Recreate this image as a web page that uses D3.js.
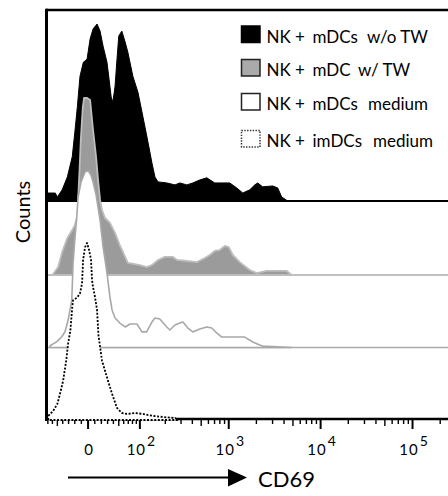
<!DOCTYPE html>
<html>
<head>
<meta charset="utf-8">
<script src="https://cdn.jsdelivr.net/npm/d3@7"></script>
<style>
  body { margin: 0; background: #fff; }
  svg { display: block; }
  text { font-family: Lato, "Open Sans", sans-serif; fill: #000; }
</style>
</head>
<body>
<svg width="448" height="496"></svg>
<script>

// DATA : [CD69 value, % of max]

var woTW = [[-72,4.5],[-54,4.5],[-50,2.3],[-41,6.3],[-32,13.6],[-24,25],[-20,38.6],[-16,53.4],[-12,70.5],[-7,78.4],[-1.5,80.1],[3,91.5],[7.4,97.2],[13.4,100],[18,96],[22.7,87.5],[29,78.4],[32.5,68.8],[36,59.1],[39,55.7],[43,64.8],[46.6,80.1],[50,93.2],[56,96],[63,89.8],[69,84.1],[81,70.5],[94.5,61.4],[109,47.7],[126,33],[140,21.6],[152,13.6],[165,10.8],[208,10.2],[257,9.1],[291,10.2],[348,9.1],[405,10.2],[483,11.9],[576,13.1],[704,10.2],[1025,10.2],[1222,7.4],[1421,4.5],[1693,6.3],[1918,9.1],[2068,10.2],[2342,8],[3009,8.5],[3410,7.4],[3770,2.3],[4378,0]];

var wTW = [[-58.5,0.6],[-48.5,4.5],[-41,13],[-32,20.9],[-24,25.4],[-20,28.2],[-16,33.3],[-14.9,42.4],[-12.9,57.6],[-10.8,76.3],[-7.8,94.9],[-5.9,100],[-1.5,100],[3,98.9],[6.9,83.6],[11.9,66.7],[14.9,53.7],[18,42.4],[21,36.7],[25.8,32.2],[34,29.4],[43,23.7],[52,16.9],[63,10.2],[69,6.8],[100,5.6],[121,4.5],[140,5.6],[165,8.5],[198,10.2],[244,10.2],[270,8.5],[348,7.9],[449,7.3],[548,9.6],[621,11.3],[704,13.6],[797,14.1],[906,16.4],[1001,15.8],[1107,11.3],[1319,7.3],[1693,2.8],[2018,1.1],[2590,2.3],[4272,2.3],[4838,0]];

var mDCsMedium = [[-65,1],[-51,3.3],[-41.7,6.1],[-36,8.9],[-30.7,15.5],[-24.7,26.8],[-22.7,47.7],[-20,60.7],[-16.9,73.7],[-14.9,85],[-10.4,93.5],[-4.4,99.2],[0,100],[4.4,97.2],[7.4,93.5],[11.9,86.2],[18,72],[22.7,56.8],[29,42.1],[34,28.5],[37.6,21.2],[43,16.7],[52,13.8],[63,11.6],[74,13.3],[91.7,13.3],[106,8.8],[121,8.8],[140,14.4],[152,16.7],[173,16.1],[208,11.6],[225,9.9],[257,12.7],[291,13.8],[315,14.4],[357,11],[405,8.8],[483,10.5],[576,11.6],[653,11],[740,8.2],[838,5.9],[1494,5.9],[1825,3.1],[2173,1.4],[2342,0.8],[4838,0]];

var imDCsMedium = [[-69,2.3],[-58.5,5.1],[-50,9.1],[-45,14.8],[-39.3,22.2],[-34,33.5],[-30.7,43.2],[-27,50.6],[-24,63.6],[-22.7,67.6],[-16,69.3],[-12,71.6],[-8.9,77.3],[-7.4,90.3],[-4.4,97.7],[-1.5,100],[1.5,96],[4.4,90.3],[5.9,79],[7.4,75],[10.4,69.3],[13.4,62],[15.5,48],[21,33.5],[25.8,27.8],[30.7,22.2],[37.6,14.8],[46.6,6.8],[56,4],[67,3.4],[87,4],[109,3.4],[144,2.3],[188,1.7],[257,1.1],[277,0]];

var legendLabels = [
  ["NK +", "mDCs", "w/o TW"],
  ["NK +", "mDC", "w/ TW"],
  ["NK +", "mDCs", "medium"],
  ["NK +", "imDCs", "medium"]
];

var majorTicks = [0, 100, 1000, 10000, 100000];
var majorBase = ["0", "10", "10", "10", "10"];
var majorExp = ["", "2", "3", "4", "5"];

var svg = d3.select("svg"),
    width = +svg.attr("width"),
    height = +svg.attr("height");

// SCALES (biexponential-like display)

var cofactor = 59;
function tr(v) { return Math.asinh(v / cofactor); }

var xs = d3.scaleLinear()
    .domain([tr(-72), tr(262144)])
    .range([47, 451]);
function x(v) { return xs(tr(v)); }

var rowHeight = 177;

var rows = [
  { data: woTW,        base: 201,   fill: "#000",    stroke: "#000",    sw: 1,   line: "#000",    lw: 2.2 },
  { data: wTW,         base: 275,   fill: "#9b9b9b", stroke: "#bdbdbd", sw: 1.8, line: "#ababab", lw: 1.6 },
  { data: mDCsMedium,  base: 347.5, fill: "#fff",    stroke: "#a8a8a8", sw: 1.6, line: "#ababab", lw: 1.6 },
  { data: imDCsMedium, base: 420,   fill: "#fff",    stroke: "#000",    sw: 1.8, line: null,      dash: "2,1.6" }
];

// AXIS

var axisY = 419;

var minorTicks = [];
for (var i = -7; i <= 9; i++) if (i !== 0) minorTicks.push(i * 10);
[100, 1000, 10000].forEach(function(dec) {
  for (var m = 2; m <= 9; m++) minorTicks.push(m * dec);
});
minorTicks.push(200000);

svg.append("line")
    .attr("x1", 46).attr("x2", width)
    .attr("y1", axisY).attr("y2", axisY)
    .attr("stroke", "#000").attr("stroke-width", 2.6);

svg.append("g")
    .attr("class", "minor")
  .selectAll("line")
  .data(minorTicks)
  .enter().append("line")
    .attr("x1", function(d) { return x(d); })
    .attr("x2", function(d) { return x(d); })
    .attr("y1", axisY)
    .attr("y2", function(d) { return (String(Math.abs(d))[0] === "5") ? axisY + 7 : axisY + 5; })
    .attr("stroke", "#000").attr("stroke-width", 1.4);

svg.append("g")
    .attr("class", "major")
  .selectAll("line")
  .data(majorTicks)
  .enter().append("line")
    .attr("x1", function(d) { return x(d); })
    .attr("x2", function(d) { return x(d); })
    .attr("y1", axisY)
    .attr("y2", axisY + 10)
    .attr("stroke", "#000").attr("stroke-width", 2);

// HISTOGRAMS

var area = d3.area()
    .x(function(d) { return x(d[0]); });

rows.forEach(function(r) {
  var y = d3.scaleLinear().domain([0, 100]).range([r.base, r.base - rowHeight]);
  if (r.line && r.fill !== "#000") {
    svg.append("line")
        .attr("x1", 46).attr("x2", width)
        .attr("y1", r.base).attr("y2", r.base)
        .attr("stroke", r.line).attr("stroke-width", r.lw);
  }
  area.y0(r.base).y1(function(d) { return y(d[1]); });
  svg.append("path")
      .datum(r.data)
      .attr("d", function(d) { return area(d) ; })
      .attr("fill", r.fill)
      .attr("stroke", r.stroke)
      .attr("stroke-width", r.sw)
      .attr("stroke-dasharray", r.dash || null)
      .attr("stroke-linejoin", "round");
  if (r.fill === "#000") {
    svg.append("line")
        .attr("x1", 46).attr("x2", width)
        .attr("y1", r.base).attr("y2", r.base)
        .attr("stroke", r.line).attr("stroke-width", r.lw);
  }
});

// FRAME

svg.append("line")
    .attr("x1", 46).attr("x2", width)
    .attr("y1", 10).attr("y2", 10)
    .attr("stroke", "#000").attr("stroke-width", 2.6);

svg.append("line")
    .attr("x1", 46.5).attr("x2", 46.5)
    .attr("y1", 8.7).attr("y2", 421)
    .attr("stroke", "#000").attr("stroke-width", 3);

// TICK LABELS

var tl = svg.append("g")
  .selectAll("text")
  .data(majorTicks)
  .enter().append("text")
    .attr("x", function(d) { return x(d) + 1; })
    .attr("y", 455)
    .attr("text-anchor", "middle")
    .style("font-size", "15px");

tl.append("tspan")
    .attr("letter-spacing", 1)
    .text(function(d, i) { return majorBase[i]; });
tl.append("tspan")
    .attr("dx", 1)
    .attr("dy", -9)
    .style("font-size", "14px")
    .text(function(d, i) { return majorExp[i]; });

// AXIS TITLES

svg.append("line")
    .attr("x1", 68).attr("x2", 232)
    .attr("y1", 477.5).attr("y2", 477.5)
    .attr("stroke", "#000").attr("stroke-width", 1.8);

svg.append("path")
    .attr("d", "M228,469L247,477.5L228,486.5Z")
    .attr("fill", "#000");

svg.append("text")
    .attr("x", 258).attr("y", 487)
    .style("font-size", "22px")
    .text("CD69");

svg.append("text")
    .attr("transform", "translate(30,212) rotate(-90)")
    .attr("text-anchor", "middle")
    .style("font-size", "20px")
    .text("Counts");

// LEGEND

var legendRowY = [42.5, 76, 110, 147];
var legendWordX = [[266.5, 312.5, 367], [266.5, 312.5, 358], [266.5, 312.5, 368], [266.5, 312.5, 373]];
var legendSwatch = [
  { fill: "#000",    stroke: "#000", dash: null },
  { fill: "#aaaaaa", stroke: "#222", dash: null },
  { fill: "#fff",    stroke: "#222", dash: null },
  { fill: "#fff",    stroke: "#333", dash: "1.4,1.4" }
];

var leg = svg.append("g")
    .attr("class", "legend")
  .selectAll("g")
  .data(legendLabels)
  .enter().append("g");

leg.append("rect")
    .attr("x", 241.5)
    .attr("y", function(d, i) { return legendRowY[i] - 16.5; })
    .attr("width", 18.5).attr("height", 16.5)
    .attr("fill", function(d, i) { return legendSwatch[i].fill; })
    .attr("stroke", function(d, i) { return legendSwatch[i].stroke; })
    .attr("stroke-width", 1.5)
    .attr("stroke-dasharray", function(d, i) { return legendSwatch[i].dash; });

leg.each(function(d, i) {
  var g = d3.select(this);
  d.forEach(function(word, j) {
    g.append("text")
        .attr("x", legendWordX[i][j])
        .attr("y", legendRowY[i])
        .style("font-size", "17px")
        .text(word);
  });
});

</script>
</body>
</html>
